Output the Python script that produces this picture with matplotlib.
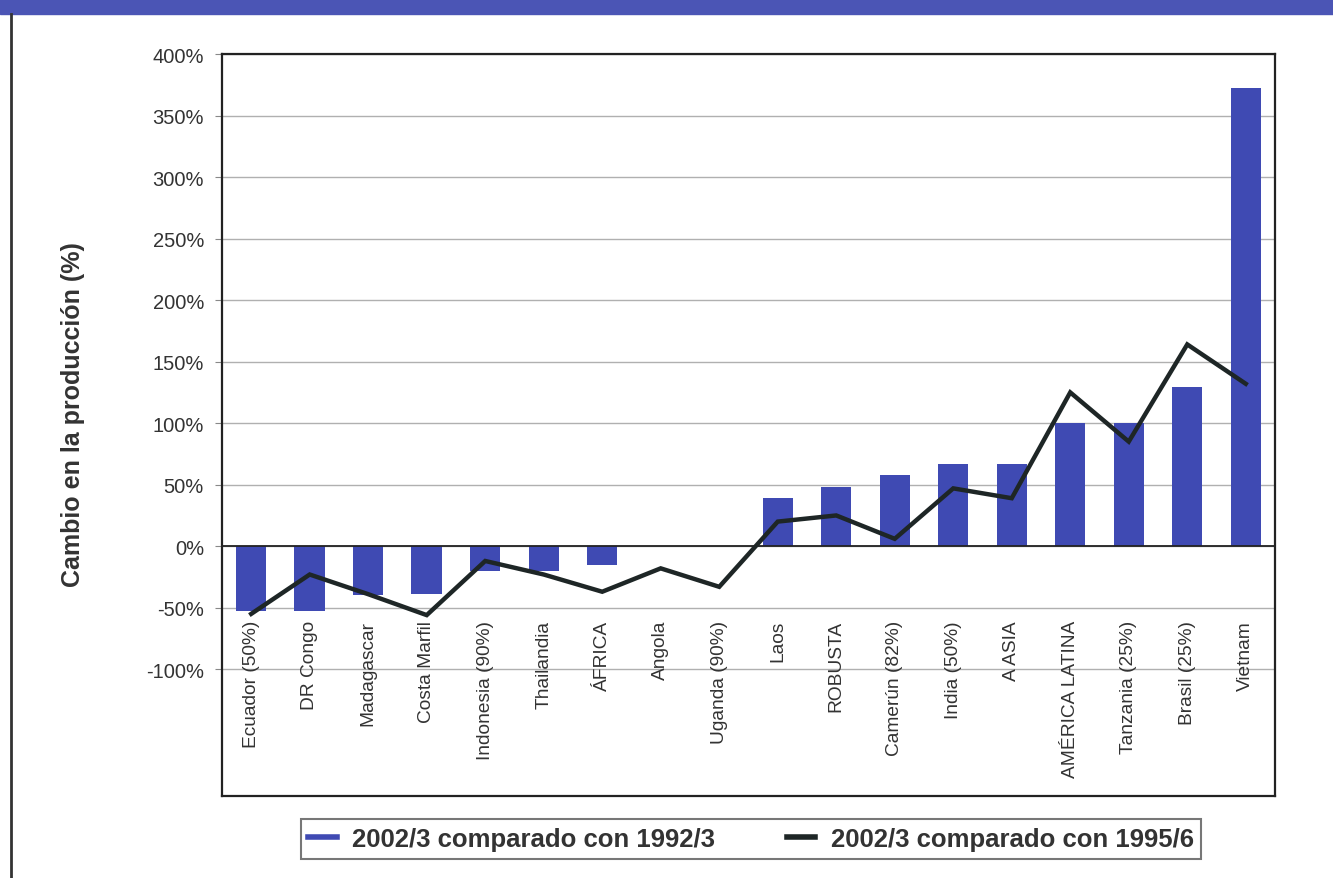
import matplotlib
matplotlib.use("Agg")
import matplotlib.pyplot as plt
import numpy as np
from matplotlib.lines import Line2D
from matplotlib.patches import Rectangle

# values (percent change in production)
categories = ["Ecuador (50%)", "DR Congo", "Madagascar", "Costa Marfil", "Indonesia (90%)",
              "Thailandia", "ÁFRICA", "Angola", "Uganda (90%)", "Laos", "ROBUSTA",
              "Camerún (82%)", "India (50%)", "A ASIA", "AMÉRICA LATINA", "Tanzania (25%)",
              "Brasil (25%)", "Vietnam"]
vs_1992 = [-53, -53, -40, -39, -20, -20, -15, 0, 0, 39, 48, 58, 67, 67, 100, 100, 129, 372]
vs_1995 = [-55, -23, -39, -56, -12, -23, -37, -18, -33, 20, 25, 6, 47, 39, 125, 85, 164, 132]
series_labels = ["2002/3 comparado con 1992/3", "2002/3 comparado con 1995/6"]
y_ticks = [-100, -50, 0, 50, 100, 150, 200, 250, 300, 350, 400]

BAR_COLOR = "#3f4ab3"
LINE_COLOR = "#1e2626"

plt.rcParams["font.family"] = ["Liberation Sans", "DejaVu Sans"]

fig = plt.figure(figsize=(13.33, 8.79), dpi=100)
ax = fig.add_axes([0.1665, 0.0933, 0.79, 0.8441])

x = np.arange(len(categories))
ax.bar(x, vs_1992, width=0.52, color=BAR_COLOR, zorder=2)
ax.plot(x, vs_1995, color=LINE_COLOR, lw=3.2, zorder=3, solid_joinstyle="miter")

ax.set_xlim(-0.5, len(categories) - 0.5)
ax.set_ylim(-203, 400)
ax.set_yticks(y_ticks)
ax.set_yticklabels([f"{v}%" for v in y_ticks], fontsize=14.5, color="#333333")
ax.yaxis.grid(True, color="#b0b0b0", lw=1.0, zorder=0)
ax.tick_params(axis="y", length=5, width=0.8, color="#888888", pad=8)
ax.axhline(0, color="#222222", lw=1.3, zorder=2.5)

# category labels sit inside the plot box, below the -100% line
ax.set_xticks([])
for xi, name in zip(x, categories):
    ax.text(xi, -60, name, rotation=90, ha="center", va="top", fontsize=13.8, color="#333333")

for s in ax.spines.values():
    s.set_color("#222222")
    s.set_linewidth(1.6)

ax.set_ylabel("Cambio en la producción (%)", fontsize=18, fontweight="bold", color="#333333")
ax.yaxis.set_label_coords(-0.13, 0.515)

handles = [Line2D([], [], color=BAR_COLOR, lw=4), Line2D([], [], color=LINE_COLOR, lw=4)]
leg = fig.legend(handles, series_labels, loc="center", bbox_to_anchor=(0.5634, 0.0444), ncol=2,
                 frameon=True, fancybox=False, edgecolor="#555555", handlelength=1.1,
                 columnspacing=2.8, borderpad=0.3, handletextpad=0.6,
                 prop={"size": 18.5, "weight": "bold"})
for t in leg.get_texts():
    t.set_color("#333333")
leg.get_frame().set_linewidth(1.5)

# blue header band and left frame line of the original page
fig.patches.append(Rectangle((0, 0.983), 1, 0.017, transform=fig.transFigure,
                             color="#4b55b5", zorder=0))
fig.add_artist(Line2D([0.0085, 0.0085], [0, 0.983], transform=fig.transFigure,
                      color="#333333", lw=2))

fig.savefig("out.png", dpi=100)
